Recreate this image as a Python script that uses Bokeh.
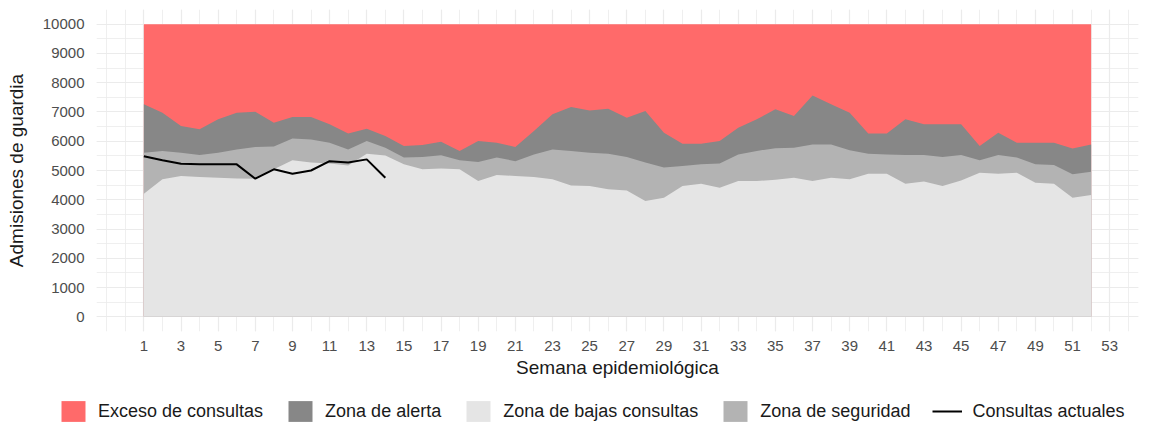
from bokeh.plotting import figure
from bokeh.layouts import column
from bokeh.models import ColumnDataSource, Range1d, FixedTicker, Legend, LegendItem
from bokeh.embed import file_html
from bokeh.resources import INLINE

# ---- data ----
semanas = list(range(1, 53))
zona_bajas = [4210, 4700, 4810, 4780, 4750, 4730, 4720, 5040, 5350, 5270,
              5240, 5170, 5570, 5510, 5210, 5040, 5070, 5040, 4640, 4850,
              4810, 4780, 4700, 4490, 4470, 4360, 4320, 3960, 4070, 4470,
              4550, 4410, 4640, 4640, 4680, 4750, 4640, 4750, 4700, 4890,
              4890, 4550, 4620, 4470, 4660, 4920, 4890, 4920, 4580, 4550,
              4070, 4160]
zona_seguridad = [5610, 5670, 5610, 5530, 5610, 5720, 5800, 5820, 6090, 6060,
                  5950, 5720, 6010, 5780, 5440, 5460, 5520, 5350, 5290, 5440,
                  5320, 5550, 5720, 5670, 5610, 5570, 5460, 5270, 5100, 5150,
                  5210, 5240, 5550, 5670, 5760, 5780, 5890, 5890, 5690, 5570,
                  5550, 5530, 5530, 5460, 5530, 5350, 5530, 5440, 5210, 5190,
                  4870, 4960]
zona_alerta = [7260, 6970, 6520, 6410, 6750, 6970, 7010, 6630, 6830, 6830,
               6580, 6260, 6430, 6180, 5840, 5870, 5980, 5670, 6010, 5950,
               5800, 6350, 6920, 7170, 7050, 7110, 6800, 7030, 6290, 5910,
               5910, 6010, 6460, 6750, 7090, 6860, 7560, 7260, 6970, 6260,
               6260, 6750, 6580, 6580, 6580, 5840, 6290, 5950, 5950, 5950,
               5750, 5890]
techo = [10000] * 52
semanas_actuales = list(range(1, 15))
consultas_actuales = [5490, 5350, 5230, 5210, 5210, 5210, 4720, 5040, 4890,
                      5000, 5320, 5270, 5380, 4750]
x_ticks = list(range(1, 54, 2))
x_minor = list(range(-1, 55))
y_ticks = list(range(0, 10001, 1000))
y_minor = list(range(-500, 10501, 500))
legend_labels = ["Exceso de consultas", "Zona de alerta",
                 "Zona de bajas consultas", "Zona de seguridad",
                 "Consultas actuales"]

c_exceso = "#FF6A6A"
c_alerta = "#878787"
c_seguridad = "#B3B3B3"
c_bajas = "#E5E5E5"
FONT = "Liberation Sans"

src = ColumnDataSource(dict(x=semanas, bajas=zona_bajas, seg=zona_seguridad,
                            alerta=zona_alerta, techo=techo))
src_line = ColumnDataSource(dict(x=semanas_actuales, y=consultas_actuales))

p = figure(width=1150, height=392, output_backend="svg", toolbar_location=None,
           x_range=Range1d(-1.55, 54.55), y_range=Range1d(-500, 10500),
           min_border_left=96, min_border_right=12, min_border_top=9,
           min_border_bottom=61)
p.outline_line_color = None
p.background_fill_color = "white"
p.frame_align = False

# areas (drawn overlapping from zero so no seams)
p.varea(x="x", y1=0, y2="techo", source=src, fill_color=c_exceso)
p.varea(x="x", y1=0, y2="alerta", source=src, fill_color=c_alerta)
p.varea(x="x", y1=0, y2="seg", source=src, fill_color=c_seguridad)
p.varea(x="x", y1=0, y2="bajas", source=src, fill_color=c_bajas)
p.line(x="x", y="y", source=src_line, line_color="black", line_width=2)

# axes
p.xaxis.ticker = FixedTicker(ticks=x_ticks, minor_ticks=x_minor)
p.yaxis.ticker = FixedTicker(ticks=y_ticks, minor_ticks=y_minor)
for ax in (p.xaxis[0], p.yaxis[0]):
    ax.axis_line_color = None
    ax.major_tick_line_color = None
    ax.minor_tick_line_color = None
    ax.major_tick_out = 0
    ax.major_tick_in = 0
    ax.minor_tick_out = 0
    ax.minor_tick_in = 0
    ax.major_label_text_font = FONT
    ax.major_label_text_font_size = "15px"
    ax.major_label_text_color = "#4D4D4D"
    ax.axis_label_text_font = FONT
    ax.axis_label_text_font_size = "19px"
    ax.axis_label_text_font_style = "normal"
    ax.axis_label_text_color = "#1A1A1A"
p.xaxis.axis_label = "Semana epidemiológica"
p.yaxis.axis_label = "Admisiones de guardia"
p.xaxis.major_label_standoff = 9
p.xaxis.axis_label_standoff = 3
p.yaxis.major_label_standoff = 12
p.yaxis.axis_label_standoff = 13

for g in (p.xgrid[0], p.ygrid[0]):
    g.grid_line_color = "#EBEBEB"
    g.grid_line_width = 1.2
    g.minor_grid_line_color = "#EBEBEB"
    g.minor_grid_line_width = 0.8
    g.level = "underlay"

# ---- legend strip (separate figure so it is not clipped) ----
pl = figure(width=1150, height=32, output_backend="svg", toolbar_location=None,
            x_range=Range1d(0, 1), y_range=Range1d(0, 1),
            x_axis_location=None, y_axis_location=None,
            min_border_left=0, min_border_right=0, min_border_top=0,
            min_border_bottom=0)
pl.outline_line_color = None
pl.grid.visible = False
pl.frame_align = False
off = dict(x=[5, 6], y1=[5, 5], y2=[6, 6])
g1 = pl.varea(x="x", y1="y1", y2="y2", source=ColumnDataSource(off), fill_color=c_exceso)
g2 = pl.varea(x="x", y1="y1", y2="y2", source=ColumnDataSource(off), fill_color=c_alerta)
g3 = pl.varea(x="x", y1="y1", y2="y2", source=ColumnDataSource(off), fill_color=c_bajas)
g4 = pl.varea(x="x", y1="y1", y2="y2", source=ColumnDataSource(off), fill_color=c_seguridad)
g5 = pl.line(x=[5, 6], y=[5, 5], line_color="black", line_width=2)

leg = Legend(items=[LegendItem(label=lab, renderers=[r])
                    for lab, r in zip(legend_labels, [g1, g2, g3, g4, g5])],
             orientation="horizontal", location=(58, 0))
leg.glyph_width = 30
leg.glyph_height = 26
leg.label_height = 26
leg.label_standoff = 10
leg.spacing = 22
leg.padding = 0
leg.margin = 0
leg.border_line_color = None
leg.background_fill_alpha = 0
leg.label_text_font = FONT
leg.label_text_font_size = "18px"
leg.label_text_color = "#1A1A1A"
pl.add_layout(leg, "center")

layout = column(p, pl, spacing=0)
open("out.html", "w").write(file_html(layout, INLINE))
